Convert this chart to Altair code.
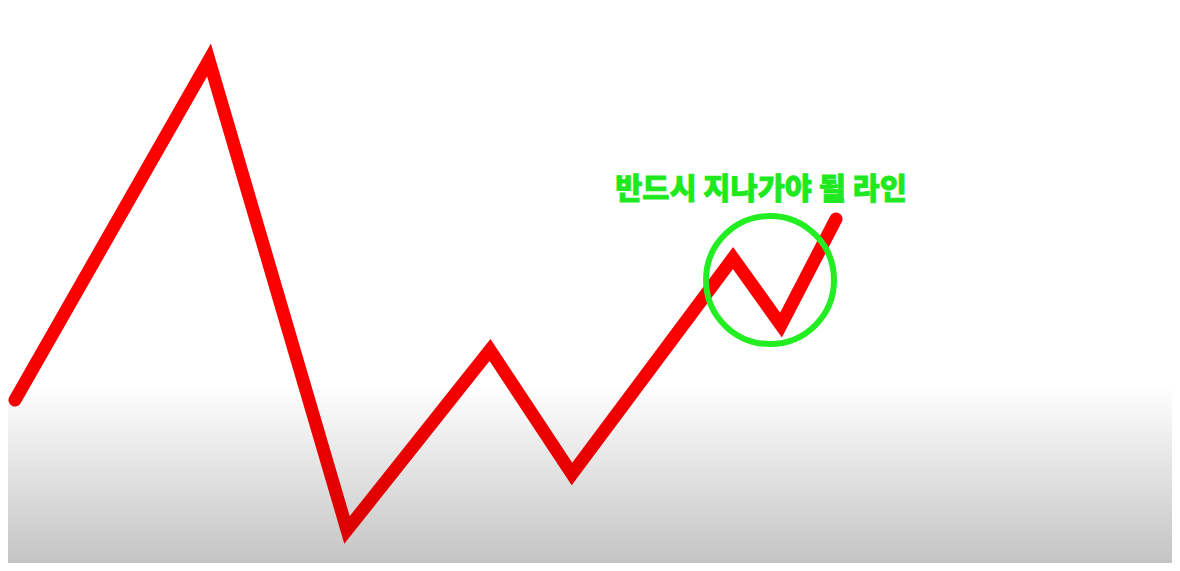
import altair as alt
import pandas as pd

# zigzag price path (x position, level)
xs = [15, 209, 347, 490, 572, 733, 781, 836]
levels = [171, 511, 41, 221, 97, 313, 246, 352]

# highlighted zone and its caption
zone_x = [770]
zone_y = [291]
label_x = [761]
label_y = [381]
labels = ["반드시 지나가야 될 라인"]

W, H = 1164, 555
line_df = pd.DataFrame({"x": xs, "y": levels})
zone_df = pd.DataFrame({"x": zone_x, "y": zone_y})
label_df = pd.DataFrame({"x": label_x, "y": label_y, "t": labels})

xsc = alt.Scale(domain=[8, 8 + W], nice=False, zero=False)
ysc = alt.Scale(domain=[8, 8 + H], nice=False, zero=False)

bg = alt.Chart(alt.Data(values=[{}])).mark_rect(
    fill=alt.Gradient(
        gradient="linear",
        stops=[
            alt.GradientStop(color="#ffffff", offset=0),
            alt.GradientStop(color="#ffffff", offset=0.68),
            alt.GradientStop(color="#c4c4c4", offset=1),
        ],
        x1=0, x2=0, y1=0, y2=1,
    )
).encode(x=alt.value(0), x2=alt.value(W), y=alt.value(0), y2=alt.value(H))

line = alt.Chart(line_df).mark_line(
    strokeWidth=13,
    strokeCap="round",
    strokeJoin="miter",
    stroke=alt.Gradient(
        gradient="linear",
        stops=[
            alt.GradientStop(color="#ff0000", offset=0),
            alt.GradientStop(color="#fb0000", offset=0.6),
            alt.GradientStop(color="#dc0000", offset=1),
        ],
        x1=0, x2=0, y1=0, y2=1,
    ),
).encode(
    x=alt.X("x:Q", scale=xsc, axis=None),
    y=alt.Y("y:Q", scale=ysc, axis=None),
    order=alt.Order("x:Q"),
)

zone = alt.Chart(zone_df).mark_point(
    shape="circle", filled=False, size=16384, strokeWidth=6, color="#22ee22", opacity=1
).encode(
    x=alt.X("x:Q", scale=xsc, axis=None),
    y=alt.Y("y:Q", scale=ysc, axis=None),
)

caption = alt.Chart(label_df).mark_text(
    font="Noto Sans CJK KR", fontSize=29.5, fontWeight=900, color="#1ee81e",
    stroke="#1ee81e", strokeWidth=0.8,
    align="center", baseline="middle",
).encode(
    x=alt.X("x:Q", scale=xsc, axis=None),
    y=alt.Y("y:Q", scale=ysc, axis=None),
    text="t:N",
)

chart = alt.layer(bg, line, zone, caption).properties(
    width=W, height=H, padding=0, autosize=alt.AutoSizeParams(type="none")
).configure_view(stroke=None)

chart.save("out.html", embed_options={"renderer": "svg", "actions": False})
